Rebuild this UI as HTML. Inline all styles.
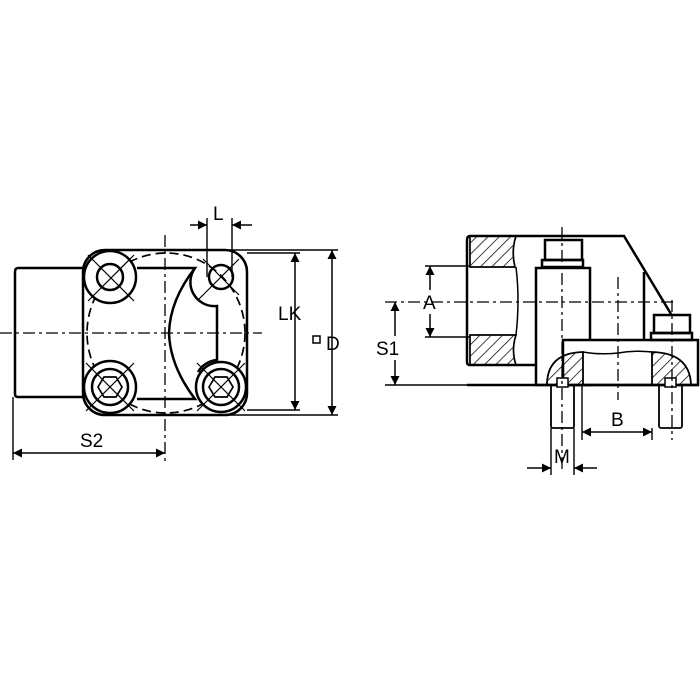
<!DOCTYPE html>
<html><head><meta charset="utf-8"><style>
html,body{margin:0;padding:0;background:#fff;}
svg{display:block;}
text{font-family:"Liberation Sans",sans-serif;font-size:19px;fill:#000;}
</style></head><body>
<svg width="700" height="700" viewBox="0 0 700 700" xmlns="http://www.w3.org/2000/svg">
<defs>
<pattern id="h" patternUnits="userSpaceOnUse" width="8" height="8" patternTransform="rotate(45)">
<line x1="0" y1="0" x2="0" y2="8" stroke="#000" stroke-width="1.5"/>
</pattern>
<marker id="a" viewBox="0 0 10 10" refX="10" refY="5" markerWidth="15" markerHeight="9" markerUnits="userSpaceOnUse" orient="auto-start-reverse">
<path d="M0,0 L10,5 L0,10 z" fill="#000"/>
</marker>
</defs>
<g fill="none" stroke="#000" stroke-width="2.5">
<!-- LEFT VIEW -->
<path d="M83,268 L18,268 Q15,268 15,272 L15,394 Q15,397 18,397 L83,397"/>
<rect x="83" y="250" width="164" height="165" rx="22"/>
<ellipse cx="166" cy="333" rx="79" ry="80" stroke-width="1.7" stroke-dasharray="9,5"/>
<circle cx="110" cy="277" r="26" fill="#fff"/>
<circle cx="110" cy="277" r="13"/>
<circle cx="110" cy="387" r="26" fill="#fff"/>
<circle cx="110" cy="387" r="18"/>
<polygon points="98,387 104,377 116,377 122,387 116,397 104,397" stroke-width="1.7"/>
<circle cx="221" cy="387" r="25" fill="#fff"/>
<circle cx="221" cy="387" r="18"/>
<polygon points="209,387 215,377 227,377 233,387 227,397 215,397" stroke-width="1.7"/>
<path d="M137,268 L195,268 Q170,300 169,333 Q170,366 195,399 L137,399"/>
<path d="M195,268 A24,24 0 0,0 217,306 L217,360 A24,24 0 0,0 198,372"/>
<circle cx="221" cy="277" r="12"/>
<g stroke-width="1.2">
<line x1="88" y1="255" x2="134" y2="301"/><line x1="134" y1="255" x2="88" y2="301"/>
<line x1="86" y1="363" x2="134" y2="411"/><line x1="134" y1="363" x2="86" y2="411"/>
<line x1="197" y1="363" x2="245" y2="411"/><line x1="245" y1="363" x2="197" y2="411"/>
<line x1="203" y1="259" x2="239" y2="295"/><line x1="239" y1="259" x2="199" y2="299"/>
</g>
<line x1="0" y1="333" x2="262" y2="333" stroke-width="1.3" stroke-dasharray="12,4,3,4"/>
<line x1="165" y1="235" x2="165" y2="462" stroke-width="1.3" stroke-dasharray="12,4,3,4"/>
<g stroke-width="1.4">
<line x1="207" y1="218" x2="207" y2="277"/><line x1="232" y1="218" x2="232" y2="277"/>
<line x1="247" y1="253" x2="300" y2="253"/><line x1="247" y1="410" x2="300" y2="410"/>
<line x1="230" y1="250" x2="338" y2="250"/><line x1="230" y1="415" x2="338" y2="415"/>
<line x1="13" y1="397" x2="13" y2="460"/>
</g>
<g stroke-width="1.5">
<line x1="190" y1="225" x2="207" y2="225" marker-end="url(#a)"/>
<line x1="252" y1="225" x2="232" y2="225" marker-end="url(#a)"/>
<line x1="295" y1="253" x2="295" y2="410" marker-start="url(#a)" marker-end="url(#a)"/>
<line x1="332" y1="250" x2="332" y2="415" marker-start="url(#a)" marker-end="url(#a)"/>
<line x1="13" y1="453" x2="165" y2="453" marker-start="url(#a)" marker-end="url(#a)"/>
</g>
<rect x="313" y="336" width="7" height="7" stroke-width="1.5"/>

<!-- RIGHT VIEW -->
<path d="M470,236 L624,236 L671,314"/>
<path d="M470,236 Q467,236 467,240 L467,362 Q467,365 470,365 L536,365"/>
<path d="M470,236 L516,236 Q511,251 515,267 L470,267 Z" fill="url(#h)" stroke-width="1.7"/>
<path d="M470,335 L516,335 Q511,350 516,365 L470,365 Z" fill="url(#h)" stroke-width="1.7"/>
<path d="M516,267 Q520,300 516,335" stroke-width="1.5"/>
<rect x="536" y="268" width="54" height="117"/>
<rect x="545" y="240" width="37" height="20"/>
<rect x="542" y="260" width="41" height="7"/>
<line x1="644" y1="272" x2="644" y2="340"/>
<rect x="563" y="340" width="135" height="45" fill="#fff"/>
<rect x="654" y="315" width="36" height="18"/>
<rect x="651" y="333" width="41" height="7"/>
<path d="M547,385 Q547,353 583,352 L583,385 Z" fill="url(#h)" stroke-width="1.8"/>
<path d="M652,385 L652,352 Q690,353 691,385 Z" fill="url(#h)" stroke-width="1.8"/>
<path d="M583,352 Q600,355 618,353 Q636,350 652,352" stroke-width="1.5"/>
<line x1="467" y1="385" x2="698" y2="385"/>
<rect x="551" y="385" width="23" height="43" rx="2" stroke-width="1.8"/>
<rect x="659" y="385" width="23" height="43" rx="2" stroke-width="1.8"/>
<rect x="557" y="378" width="11" height="9" stroke-width="1.5" fill="#fff"/>
<rect x="665" y="378" width="11" height="9" stroke-width="1.5" fill="#fff"/>
<line x1="385" y1="302" x2="675" y2="302" stroke-width="1.3" stroke-dasharray="12,4,3,4"/>
<line x1="562" y1="227" x2="562" y2="470" stroke-width="1.3" stroke-dasharray="12,4,3,4"/>
<line x1="618" y1="277" x2="618" y2="400" stroke-width="1.3" stroke-dasharray="12,4,3,4"/>
<line x1="672" y1="300" x2="672" y2="440" stroke-width="1.3" stroke-dasharray="12,4,3,4"/>
<g stroke-width="1.4">
<line x1="425" y1="266" x2="470" y2="266"/><line x1="425" y1="337" x2="470" y2="337"/>
<line x1="385" y1="385" x2="467" y2="385"/>
<line x1="582" y1="385" x2="582" y2="440"/><line x1="652" y1="428" x2="652" y2="440"/>
<line x1="551" y1="428" x2="551" y2="475"/><line x1="574" y1="428" x2="574" y2="475"/>
</g>
<g stroke-width="1.5">
<line x1="430" y1="266" x2="430" y2="290" marker-start="url(#a)"/>
<line x1="430" y1="314" x2="430" y2="337" marker-end="url(#a)"/>
<line x1="395" y1="302" x2="395" y2="336" marker-start="url(#a)"/>
<line x1="395" y1="360" x2="395" y2="385" marker-end="url(#a)"/>
<line x1="582" y1="432" x2="652" y2="432" marker-start="url(#a)" marker-end="url(#a)"/>
<line x1="527" y1="468" x2="551" y2="468" marker-end="url(#a)"/>
<line x1="597" y1="468" x2="574" y2="468" marker-end="url(#a)"/>
</g>
</g>
<text x="213" y="220">L</text>
<text x="278" y="320">LK</text>
<text x="326" y="350">D</text>
<text x="80" y="447">S2</text>
<text x="423" y="309">A</text>
<text x="376" y="355">S1</text>
<text x="611" y="426">B</text>
<text x="554" y="463">M</text>
</svg>
</body></html>
